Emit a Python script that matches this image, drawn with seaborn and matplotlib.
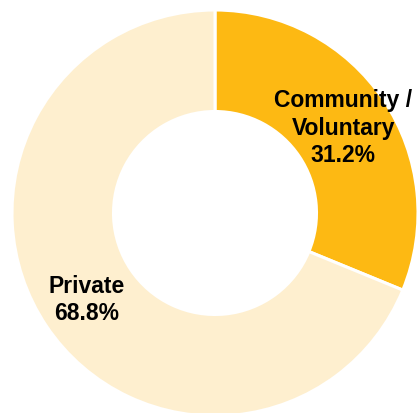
import numpy as np
import matplotlib
matplotlib.use("Agg")
import matplotlib.pyplot as plt
import seaborn as sns

categories = ["Community /\nVoluntary", "Private"]
shares = [31.2, 68.8]
colors = ["#FDB913", "#FEEFCF"]

sns.set_theme(style="white")
plt.rcParams['font.family'] = ['Liberation Sans', 'DejaVu Sans']

W, H = 419, 414
fig = plt.figure(figsize=(W / 100, H / 100), dpi=100)
ax = fig.add_axes([0, 0, 1, 1])

R = 203.0
cx, cy = 215.0, 214.0  # pixel centre from top-left
wedges, _ = ax.pie(shares, colors=colors, startangle=90, counterclock=False,
                   radius=1.0, wedgeprops=dict(width=0.5, edgecolor="white", linewidth=2.2))

ax.set_xlim(-cx / R, (W - cx) / R)
ax.set_ylim(-(H - cy) / R, cy / R)
ax.set_aspect("equal")
ax.axis("off")

for w, cat, s in zip(wedges, categories, shares):
    mid = np.deg2rad((w.theta1 + w.theta2) / 2)
    r = 0.76
    ax.text(r * np.cos(mid), r * np.sin(mid), f"{cat}\n{s:.1f}%",
            ha="center", va="center", fontsize=16.5, fontweight="bold",
            color="black", linespacing=1.25)

fig.savefig("out.png", dpi=100)
